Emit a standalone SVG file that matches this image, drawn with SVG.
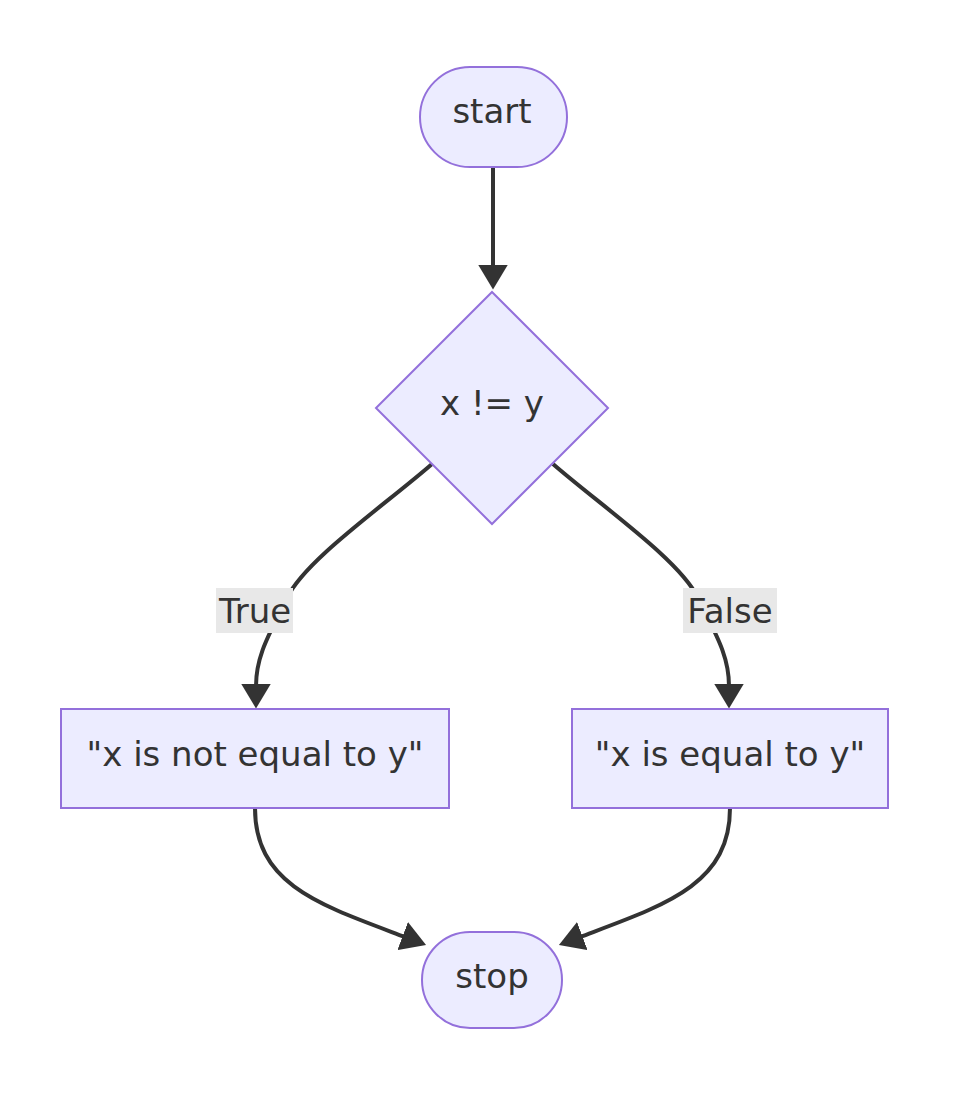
<svg xmlns="http://www.w3.org/2000/svg" width="964" height="1098" viewBox="0 0 964 1098">
<style>
.node{fill:#ECECFF;stroke:#9370DB;stroke-width:2}
.lbl{font-family:"DejaVu Sans",Verdana,sans-serif;font-size:34px;fill:#333;text-anchor:middle}
.edge{fill:none;stroke:#333;stroke-width:4}
.ebg{fill:#e8e8e8}
</style>
<defs>
<marker id="arr" viewBox="0 0 10 10" refX="1" refY="5" markerWidth="25" markerHeight="30" markerUnits="userSpaceOnUse" orient="auto" preserveAspectRatio="none">
<path d="M0,0 L10,5 L0,10 z" fill="#333"/>
</marker>
</defs>
<rect width="964" height="1098" fill="#fff"/>
<g id="connectors">
<path class="edge" d="M493 167 L493 267" marker-end="url(#arr)"/>
<path class="edge" d="M432 464 C385 505 305 560 287 598 C270 633 256 655 256 686" marker-end="url(#arr)"/>
<path class="edge" d="M553 464 C600 505 680 560 698 598 C715 633 729 655 729 686" marker-end="url(#arr)"/>
<path class="edge" d="M255 808 C255 885 320 905 405 937" marker-end="url(#arr)"/>
<path class="edge" d="M730 808 C730 885 665 905 580 937" marker-end="url(#arr)"/>
<g id="label-true"><rect class="ebg" x="216" y="588" width="77" height="45"/><text class="lbl" x="255" y="623">True</text></g>
<g id="label-false"><rect class="ebg" x="683" y="588" width="94" height="45"/><text class="lbl" x="730" y="623">False</text></g>
</g>
<g id="start"><rect class="node" x="420" y="67" width="147" height="100" rx="50" ry="50"/><text class="lbl" x="492" y="123">start</text></g>
<g id="cond"><polygon class="node" points="492,292 608,408 492,524 376,408"/><text class="lbl" x="492" y="415">x != y</text></g>
<g id="notequal"><rect class="node" x="61" y="709" width="388" height="99"/><text class="lbl" x="255" y="766">"x is not equal to y"</text></g>
<g id="equal"><rect class="node" x="572" y="709" width="316" height="99"/><text class="lbl" x="730" y="766">"x is equal to y"</text></g>
<g id="stop"><rect class="node" x="422" y="932" width="140" height="96" rx="48" ry="48"/><text class="lbl" x="492" y="988">stop</text></g>
</svg>
